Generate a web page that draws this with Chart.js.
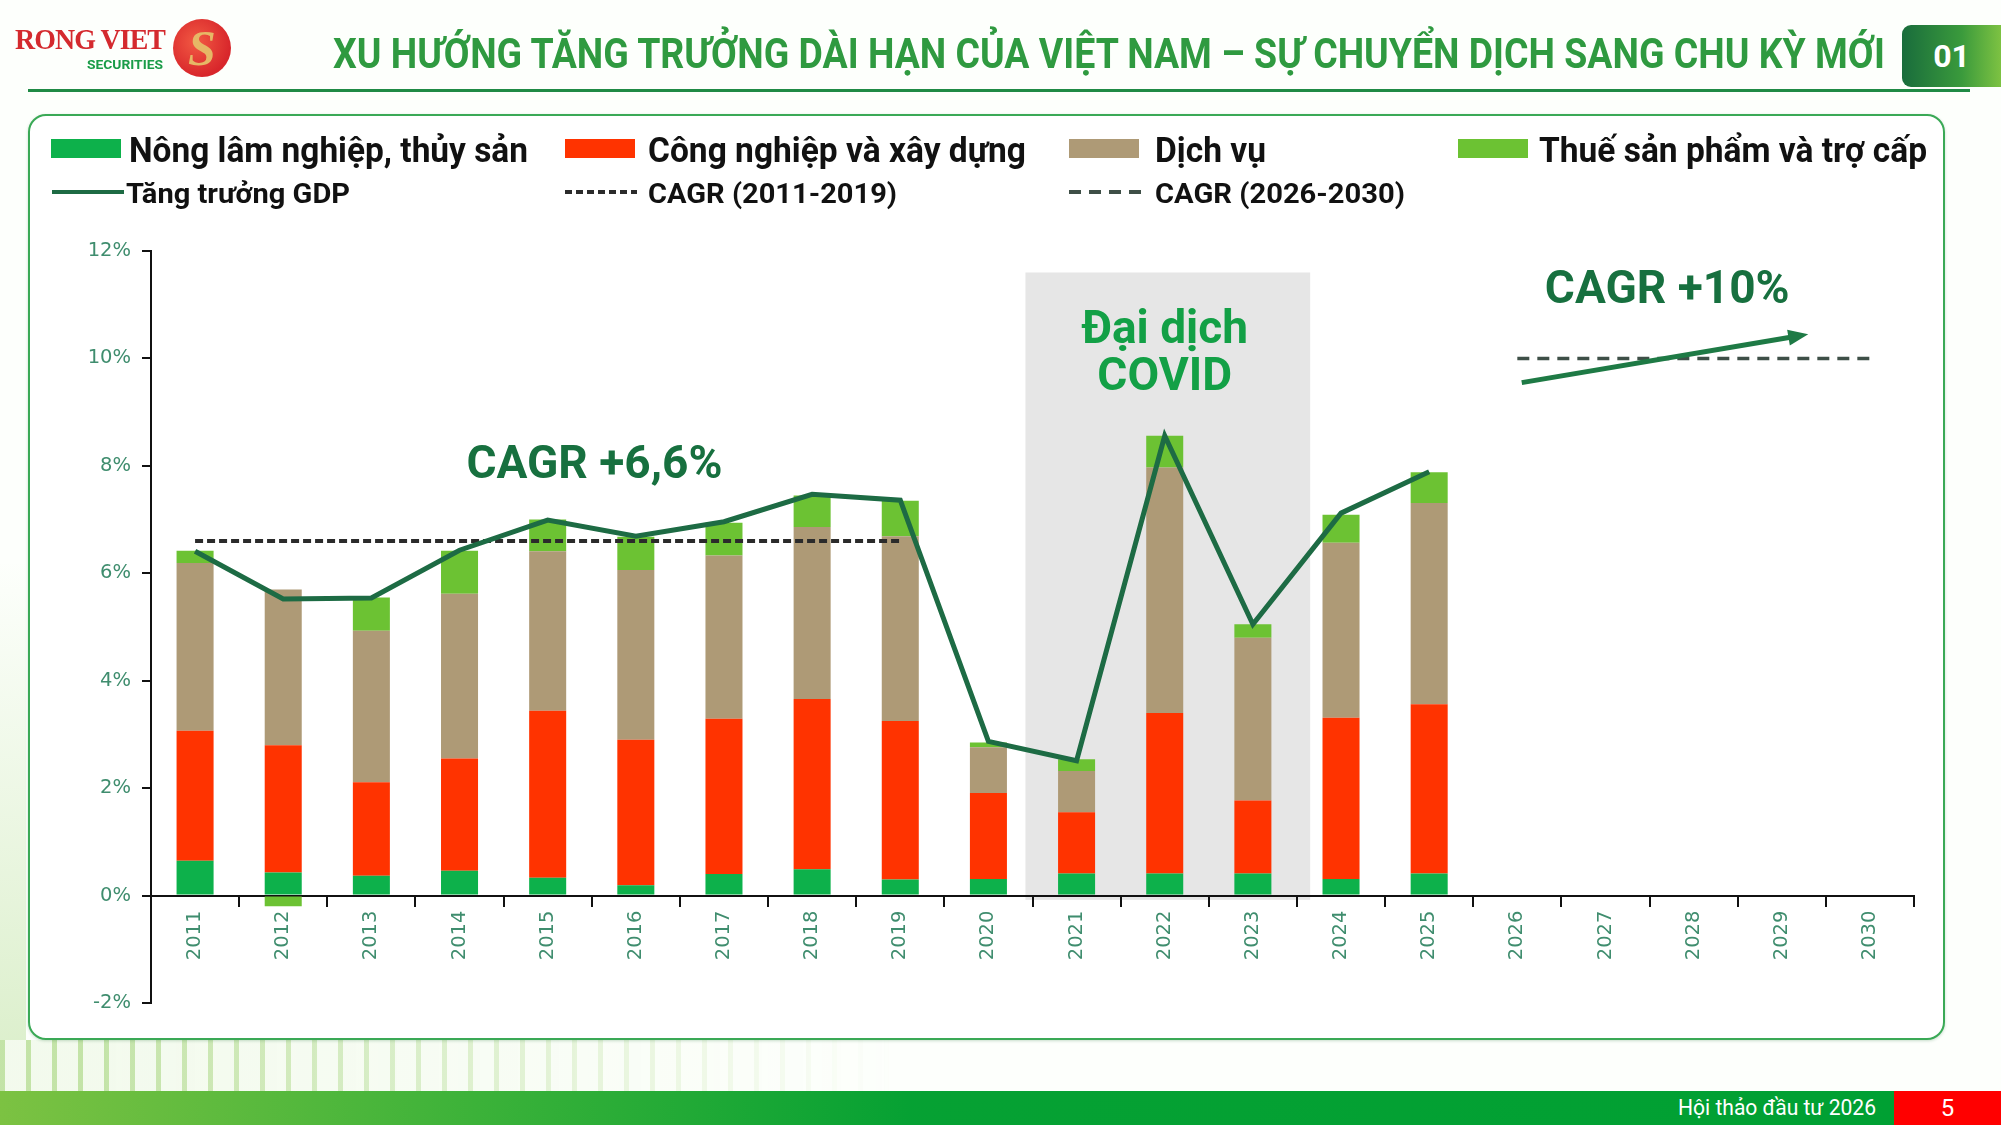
<!DOCTYPE html>
<html lang="vi">
<head>
<meta charset="utf-8">
<title>Xu hướng tăng trưởng dài hạn của Việt Nam</title>
<script src="https://cdn.jsdelivr.net/npm/chart.js@4.4.1/dist/chart.umd.min.js"></script>
<style>
  html, body { margin: 0; padding: 0; }
  body {
    width: 2001px; height: 1125px; position: relative; overflow: hidden;
    background: #fdfffc; font-family: Roboto, "Liberation Sans", sans-serif;
  }
  .abs { position: absolute; }
  .fit { white-space: nowrap; transform-origin: left center; display: inline-block; }
  #brand { left: 15px; top: 23px; font: bold 30px/32px "Liberation Serif", serif; color: #d42a2e; letter-spacing: -1px; }
  #sec { left: 87px; top: 57px; font: bold 13px/15px Roboto, sans-serif; color: #1a9c48; }
  #seal {
    left: 173px; top: 19px; width: 58px; height: 58px; border-radius: 50%;
    background: radial-gradient(circle at 40% 40%, #f25a43, #d8262b 70%);
    color: #e6b866; font: italic bold 50px/58px "Liberation Serif", serif; text-align: center;
  }
  #title { left: 333px; top: 32px; font: bold 42px/44px "Liberation Sans Narrow", Roboto, sans-serif; color: #2f9a40; }
  #badge {
    left: 1902px; top: 25px; width: 99px; height: 62px; border-radius: 9px 0 0 9px;
    background: linear-gradient(90deg, #196c3c, #3a9a3c 60%, #7dc242);
    color: #fff; font: bold 32px/62px Roboto, sans-serif; text-align: center;
  }
  #hline { left: 28px; top: 89px; width: 1942px; height: 3px; background: #1f8a45; }
  #panel {
    left: 28px; top: 114px; width: 1913px; height: 922px;
    border: 2.5px solid #3aa956; border-radius: 18px; background: #fff;
    box-shadow: 0 1px 3px rgba(40,120,60,0.25);
  }
  #stripes {
    left: 0; top: 1040px; width: 950px; height: 51px;
    background: repeating-linear-gradient(90deg, rgba(125,194,66,0.45) 0 5px, rgba(125,194,66,0.08) 5px 26px);
    -webkit-mask-image: linear-gradient(90deg, #000 10%, transparent 95%);
    mask-image: linear-gradient(90deg, #000 10%, transparent 95%);
  }
  #edge {
    left: 0; top: 560px; width: 26px; height: 480px;
    background: linear-gradient(180deg, rgba(125,194,66,0), rgba(125,194,66,0.25));
  }
  #footer {
    left: 0; top: 1091px; width: 1894px; height: 34px;
    background: linear-gradient(90deg, #7cc242 0%, #3cb239 25%, #06a133 48%, #00a033 100%);
  }
  #event { left: 1678px; top: 1093px; font: 22px/30px Roboto, sans-serif; color: #fff; }
  #page { left: 1894px; top: 1091px; width: 107px; height: 34px; background: #ff0000; color: #fff; font: 24px/34px Roboto, sans-serif; text-align: center; }
  .lg { font-family: "Liberation Sans Narrow", Roboto, sans-serif; font-weight: bold; color: #111; }
  canvas { position: absolute; left: 0; top: 0; }
</style>
</head>
<body>
<div id="edge" class="abs"></div>
<div id="stripes" class="abs"></div>
<div id="brand" class="abs fit" data-w="150">RONG VIET</div>
<div id="sec" class="abs fit" data-w="76">SECURITIES</div>
<div id="seal" class="abs">S</div>
<div id="title" class="abs fit" data-w="1552">XU HƯỚNG TĂNG TRƯỞNG DÀI HẠN CỦA VIỆT NAM – SỰ CHUYỂN DỊCH SANG CHU KỲ MỚI</div>
<div id="badge" class="abs">01</div>
<div id="hline" class="abs"></div>
<div id="panel" class="abs"></div>
<div id="legend"></div>
<canvas id="chart" width="2001" height="1125"></canvas>
<div id="footer" class="abs"></div>
<div id="event" class="abs fit" data-w="198">Hội thảo đầu tư 2026</div>
<div id="page" class="abs">5</div>

<script>
const years = ['2011', '2012', '2013', '2014', '2015', '2016', '2017', '2018', '2019', '2020',
               '2021', '2022', '2023', '2024', '2025', '2026', '2027', '2028', '2029', '2030'];

// contribution to growth, percentage points
const nongLam    = [0.65, 0.43, 0.37, 0.46, 0.33, 0.19, 0.40, 0.49, 0.30, 0.31, 0.41, 0.41, 0.41, 0.31, 0.41, null, null, null, null, null];
const congNghiep = [2.42, 2.37, 1.74, 2.09, 3.11, 2.71, 2.89, 3.17, 2.95, 1.60, 1.14, 2.99, 1.36, 3.00, 3.15, null, null, null, null, null];
const dichVu     = [3.12, 2.90, 2.82, 3.07, 2.97, 3.16, 3.04, 3.20, 3.44, 0.85, 0.77, 4.57, 3.03, 3.26, 3.75, null, null, null, null, null];
const thue       = [0.23, -0.20, 0.62, 0.80, 0.59, 0.62, 0.61, 0.59, 0.66, 0.09, 0.22, 0.59, 0.25, 0.52, 0.57, null, null, null, null, null];

const gdp        = [6.41, 5.52, 5.54, 6.43, 6.99, 6.69, 6.96, 7.47, 7.36, 2.87, 2.51, 8.56, 5.05, 7.12, 7.89, null, null, null, null, null];
const cagr1119   = [6.6, 6.6, 6.6, 6.6, 6.6, 6.6, 6.6, 6.6, 6.6, null, null, null, null, null, null, null, null, null, null, null];
const cagr2630   = [null, null, null, null, null, null, null, null, null, null, null, null, null, null, null, 10, 10, 10, 10, 10];

const yTicks = [-2, 0, 2, 4, 6, 8, 10, 12];

const seriesNames = ['Nông lâm nghiệp, thủy sản', 'Công nghiệp và xây dựng', 'Dịch vụ', 'Thuế sản phẩm và trợ cấp',
                     'Tăng trưởng GDP', 'CAGR (2011-2019)', 'CAGR (2026-2030)'];
const colors = ['#0db14b', '#ff3300', '#ae9a76', '#6cc233', '#1d6b44', '#2b2b2b', '#3e4f47'];

// notes on the chart, in category index / percent units
const notes = [
  { lines: ['CAGR +6,6%'], x: 4.53, y: 7.98, color: '#17703f' },
  { lines: ['Đại dịch', 'COVID'], x: 11, y: 10.06, color: '#13a046' },
  { lines: ['CAGR +10%'], x: 16.7, y: 11.24, color: '#17703f' }
];
const covidBand = { from: 9.42, to: 12.65, top: 11.6, bottom: -0.08 };
const arrow = { from: [15.05, 9.55], to: [18.3, 10.45] };

const tickFont = { family: 'DejaVu Sans', size: 19.5 };
const tickColor = '#3f8d6e';

// legend (html, laid out like the slide)
const legendSpots = [
  { sx: 51, tx: 129, w: 399, row: 0 }, { sx: 565, tx: 648, w: 378, row: 0 },
  { sx: 1069, tx: 1155, w: 111, row: 0 }, { sx: 1458, tx: 1539, w: 388, row: 0 },
  { sx: 52, tx: 126, w: 224, row: 1 }, { sx: 565, tx: 648, w: 249, row: 1 }, { sx: 1069, tx: 1155, w: 250, row: 1 }
];
const dashes = [null, null, null, null, '', '7 4', '12 8'];
const legend = document.getElementById('legend');
legendSpots.forEach((p, i) => {
  const cy = p.row === 0 ? 150 : 193;
  const fs = p.row === 0 ? 35 : 28;
  let sym;
  if (p.row === 0) {
    sym = `<div class="abs" style="left:${p.sx}px;top:${cy - 11}px;width:70px;height:19px;background:${colors[i]}"></div>`;
  } else {
    sym = `<svg class="abs" style="left:${p.sx}px;top:${cy - 6}px" width="72" height="10">
             <line x1="0" y1="5" x2="72" y2="5" stroke="${colors[i]}" stroke-width="4" stroke-dasharray="${dashes[i]}"/></svg>`;
  }
  legend.insertAdjacentHTML('beforeend', sym +
    `<div class="abs fit lg" data-w="${p.w}" style="left:${p.tx}px;top:${cy - fs * 0.58}px;font-size:${fs}px;line-height:${fs * 1.2}px">${seriesNames[i]}</div>`);
});

function fitAll() {
  document.querySelectorAll('[data-w]').forEach(el => {
    el.style.transform = 'none';
    const w = el.getBoundingClientRect().width;
    if (w > 0) el.style.transform = `scaleX(${el.dataset.w / w})`;
  });
}
fitAll();
if (document.fonts) document.fonts.ready.then(fitAll);

const annotations = {
  id: 'annotations',
  beforeDraw(chart) {
    const { ctx, scales: { x, y } } = chart;
    const x0 = x.getPixelForValue(covidBand.from), x1 = x.getPixelForValue(covidBand.to);
    const y0 = y.getPixelForValue(covidBand.top), y1 = y.getPixelForValue(covidBand.bottom);
    ctx.save();
    ctx.fillStyle = '#e6e6e6';
    ctx.fillRect(x0, y0, x1 - x0, y1 - y0);
    ctx.restore();
  },
  afterDatasetsDraw(chart) {
    const { ctx, scales: { x, y } } = chart;
    ctx.save();
    ctx.font = 'bold 46px Roboto';
    ctx.textAlign = 'center';
    ctx.textBaseline = 'middle';
    notes.forEach(n => {
      const cx = x.getPixelForValue(n.x), cy = y.getPixelForValue(n.y);
      ctx.fillStyle = n.color;
      n.lines.forEach((t, i) => {
        ctx.fillText(t, cx, cy + (i - (n.lines.length - 1) / 2) * 47);
      });
    });

    // growth arrow
    const ax = x.getPixelForValue(arrow.from[0]), ay = y.getPixelForValue(arrow.from[1]);
    const bx = x.getPixelForValue(arrow.to[0]), by = y.getPixelForValue(arrow.to[1]);
    const ang = Math.atan2(by - ay, bx - ax);
    ctx.strokeStyle = '#1e7a45';
    ctx.fillStyle = '#1e7a45';
    ctx.lineWidth = 5;
    ctx.beginPath();
    ctx.moveTo(ax, ay);
    ctx.lineTo(bx - 12 * Math.cos(ang), by - 12 * Math.sin(ang));
    ctx.stroke();
    ctx.beginPath();
    ctx.moveTo(bx, by);
    ctx.lineTo(bx - 20 * Math.cos(ang) + 8 * Math.sin(ang), by - 20 * Math.sin(ang) - 8 * Math.cos(ang));
    ctx.lineTo(bx - 20 * Math.cos(ang) - 8 * Math.sin(ang), by - 20 * Math.sin(ang) + 8 * Math.cos(ang));
    ctx.closePath();
    ctx.fill();
    ctx.restore();
  }
};

const barSets = [nongLam, congNghiep, dichVu, thue].map((d, i) => ({
  type: 'bar',
  label: seriesNames[i],
  data: d,
  backgroundColor: colors[i],
  stack: 'gdp-parts',
  order: 2,
  barPercentage: 0.42,
  categoryPercentage: 1.0
}));

new Chart(document.getElementById('chart'), {
  type: 'bar',
  data: {
    labels: years,
    datasets: [
      ...barSets,
      {
        type: 'line', label: seriesNames[4], data: gdp, stack: 'l1', order: 0,
        borderColor: colors[4], borderWidth: 5, pointRadius: 0, tension: 0
      },
      {
        type: 'line', label: seriesNames[5], data: cagr1119, stack: 'l2', order: 1,
        borderColor: colors[5], borderWidth: 4, borderDash: [8, 4], pointRadius: 0
      },
      {
        type: 'line', label: seriesNames[6], data: cagr2630, stack: 'l3', order: 1,
        borderColor: colors[6], borderWidth: 3.5, borderDash: [12, 8], pointRadius: 0
      }
    ]
  },
  options: {
    responsive: false,
    animation: false,
    layout: { padding: { left: 51, right: 87, top: 251, bottom: 122 } },
    plugins: { legend: { display: false }, tooltip: { enabled: false } },
    scales: {
      x: {
        stacked: true,
        position: { y: 0 },
        grid: { offset: true, drawOnChartArea: false, tickLength: 10, color: '#111', lineWidth: 2 },
        border: { display: true, color: '#111', width: 2 },
        ticks: { minRotation: 90, maxRotation: 90, autoSkip: false, padding: 5, color: tickColor, font: tickFont }
      },
      y: {
        stacked: true,
        min: -2,
        max: 12,
        afterFit: s => { s.width = 100; },
        afterBuildTicks: s => { s.ticks = yTicks.map(v => ({ value: v })); },
        grid: { drawOnChartArea: false, tickLength: 9, color: '#111', lineWidth: 2 },
        border: { display: true, color: '#111', width: 2 },
        ticks: { padding: 11, color: tickColor, font: tickFont, callback: v => v + '%' }
      }
    }
  },
  plugins: [annotations]
});
</script>
</body>
</html>
